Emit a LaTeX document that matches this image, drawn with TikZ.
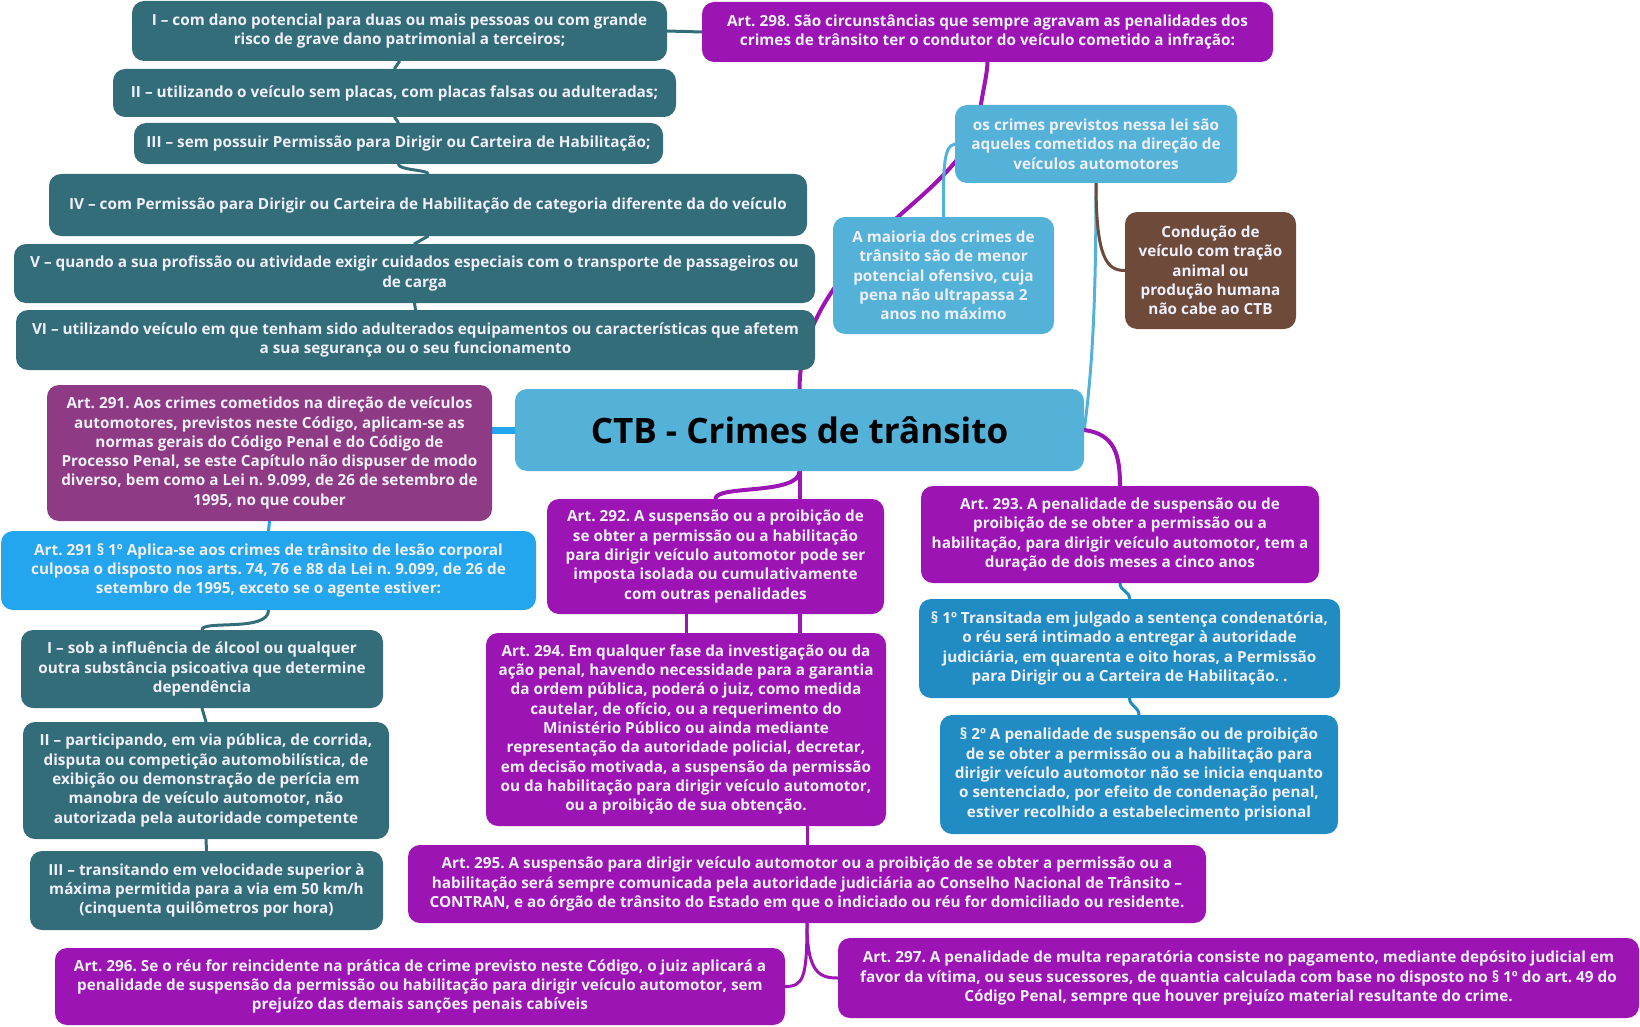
\documentclass[tikz,border=0pt]{standalone}
\usepackage{fontspec}
\setmainfont{Open Sans}
\usepackage{tikz}
\usetikzlibrary{backgrounds}
\definecolor{pur}{HTML}{9C14B4}
\definecolor{teal}{HTML}{336D7A}
\definecolor{sky}{HTML}{54B2D9}
\definecolor{plum}{HTML}{8E3A84}
\definecolor{azure}{HTML}{23A6EE}
\definecolor{ocean}{HTML}{218CC4}
\definecolor{bark}{HTML}{6D4A3A}
\definecolor{txt}{HTML}{F0F0FA}
\frenchspacing
\tikzset{
  box/.style   ={rounded corners=12pt,align=center,inner sep=0pt,text=txt,
                 font=\fontsize{15.3}{19.3}\selectfont\bfseries},
  pbox/.style  ={box,fill=pur},
  tbox/.style  ={box,fill=teal},
  sbox/.style  ={box,fill=sky},
  lbox/.style  ={box,fill=plum},
  abox/.style  ={box,fill=azure},
  obox/.style  ={box,fill=ocean},
  bbox/.style  ={box,fill=bark},
  lnk/.style   ={line width=3pt,line cap=round},
}

\begin{document}
\begin{tikzpicture}[x=1pt,y=-1pt]
  \useasboundingbox (0,0) rectangle (1640,1027);
  % centre
  \node[sbox,text=black,font=\fontsize{35}{40}\selectfont\bfseries,
        minimum width=569pt,minimum height=82pt] (cen) at (799.5,430) {CTB - Crimes de trânsito};
  % art. 298 and its items
  \node[pbox,minimum width=571pt,minimum height=60pt] (art298) at (987.5,32)
       {Art. 298. São circunstâncias que sempre agravam as penalidades dos\\crimes de trânsito ter o condutor do veículo cometido a infração:};
  \node[tbox,minimum width=535pt,minimum height=60pt] (iA) at (399.5,31)
       {I – com dano potencial para duas ou mais pessoas ou com grande\\risco de grave dano patrimonial a terceiros;};
  \node[tbox,minimum width=563pt,minimum height=48pt] (iB) at (394.5,93)
       {II – utilizando o veículo sem placas, com placas falsas ou adulteradas;};
  \node[tbox,minimum width=529pt,minimum height=41pt] (iC) at (398.5,143.5)
       {III – sem possuir Permissão para Dirigir ou Carteira de Habilitação;};
  \node[tbox,minimum width=758pt,minimum height=62pt] (iD) at (428,205)
       {IV – com Permissão para Dirigir ou Carteira de Habilitação de categoria diferente da do veículo};
  \node[tbox,minimum width=801pt,minimum height=59pt] (iE) at (414.5,273.5)
       {V – quando a sua profissão ou atividade exigir cuidados especiais com o transporte de passageiros ou\\de carga};
  \node[tbox,minimum width=799pt,minimum height=60pt] (iF) at (415.5,340)
       {VI – utilizando veículo em que tenham sido adulterados equipamentos ou características que afetem\\a sua segurança ou o seu funcionamento};
  % notes on the right
  \node[sbox,minimum width=282pt,minimum height=78pt] (crimes) at (1096,144)
       {os crimes previstos nessa lei são\\aqueles cometidos na direção de\\veículos automotores};
  \node[sbox,minimum width=221pt,minimum height=117pt] (maioria) at (943.5,275.5)
       {A maioria dos crimes de\\trânsito são de menor\\potencial ofensivo, cuja\\pena não ultrapassa 2\\anos no máximo};
  \node[bbox,minimum width=171pt,minimum height=117pt] (cond) at (1210.5,270.5)
       {Condução de\\veículo com tração\\animal ou\\produção humana\\não cabe ao CTB};
  % art. 291
  \node[lbox,minimum width=445pt,minimum height=136pt] (art291) at (269.5,453)
       {Art. 291. Aos crimes cometidos na direção de veículos\\automotores, previstos neste Código, aplicam-se as\\normas gerais do Código Penal e do Código de\\Processo Penal, se este Capítulo não dispuser de modo\\diverso, bem como a Lei n. 9.099, de 26 de setembro de\\1995, no que couber};
  \node[abox,minimum width=535pt,minimum height=79pt] (s291) at (268.5,570.5)
       {Art. 291 § 1º Aplica-se aos crimes de trânsito de lesão corporal\\culposa o disposto nos arts. 74, 76 e 88 da Lei n. 9.099, de 26 de\\setembro de 1995, exceto se o agente estiver:};
  \node[tbox,minimum width=362pt,minimum height=78pt] (sobI) at (202,669)
       {I – sob a influência de álcool ou qualquer\\outra substância psicoativa que determine\\dependência};
  \node[tbox,minimum width=366pt,minimum height=117pt] (partII) at (206,780.5)
       {II – participando, em via pública, de corrida,\\disputa ou competição automobilística, de\\exibição ou demonstração de perícia em\\manobra de veículo automotor, não\\autorizada pela autoridade competente};
  \node[tbox,minimum width=353pt,minimum height=79pt] (transIII) at (206.5,890.5)
       {III – transitando em velocidade superior à\\máxima permitida para a via em 50 km/h\\(cinquenta quilômetros por hora)};
  % arts. 292 to 297
  \node[pbox,minimum width=337pt,minimum height=115pt] (art292) at (715.5,556.5)
       {Art. 292. A suspensão ou a proibição de\\se obter a permissão ou a habilitação\\para dirigir veículo automotor pode ser\\imposta isolada ou cumulativamente\\com outras penalidades};
  \node[pbox,minimum width=400pt,minimum height=193pt] (art294) at (686,729.5)
       {Art. 294. Em qualquer fase da investigação ou da\\ação penal, havendo necessidade para a garantia\\da ordem pública, poderá o juiz, como medida\\cautelar, de ofício, ou a requerimento do\\Ministério Público ou ainda mediante\\representação da autoridade policial, decretar,\\em decisão motivada, a suspensão da permissão\\ou da habilitação para dirigir veículo automotor,\\ou a proibição de sua obtenção.};
  \node[pbox,minimum width=798pt,minimum height=78pt] (art295) at (807,884)
       {Art. 295. A suspensão para dirigir veículo automotor ou a proibição de se obter a permissão ou a\\habilitação será sempre comunicada pela autoridade judiciária ao Conselho Nacional de Trânsito –\\CONTRAN, e ao órgão de trânsito do Estado em que o indiciado ou réu for domiciliado ou residente.};
  \node[pbox,minimum width=730pt,minimum height=77pt] (art296) at (420,986.5)
       {Art. 296. Se o réu for reincidente na prática de crime previsto neste Código, o juiz aplicará a\\penalidade de suspensão da permissão ou habilitação para dirigir veículo automotor, sem\\prejuízo das demais sanções penais cabíveis};
  \node[pbox,minimum width=801pt,minimum height=80pt] (art297) at (1238.5,978)
       {Art. 297. A penalidade de multa reparatória consiste no pagamento, mediante depósito judicial em\\favor da vítima, ou seus sucessores, de quantia calculada com base no disposto no § 1º do art. 49 do\\Código Penal, sempre que houver prejuízo material resultante do crime.};
  % art. 293 and paragraphs
  \node[pbox,minimum width=398pt,minimum height=97pt] (art293) at (1120,534.5)
       {Art. 293. A penalidade de suspensão ou de\\proibição de se obter a permissão ou a\\habilitação, para dirigir veículo automotor, tem a\\duração de dois meses a cinco anos};
  \node[obox,minimum width=421pt,minimum height=99pt] (p1) at (1129.5,648.5)
       {§ 1º Transitada em julgado a sentença condenatória,\\o réu será intimado a entregar à autoridade\\judiciária, em quarenta e oito horas, a Permissão\\para Dirigir ou a Carteira de Habilitação. .};
  \node[obox,minimum width=398pt,minimum height=119pt] (p2) at (1139,774.5)
       {§ 2º A penalidade de suspensão ou de proibição\\de se obter a permissão ou a habilitação para\\dirigir veículo automotor não se inicia enquanto\\o sentenciado, por efeito de condenação penal,\\estiver recolhido a estabelecimento prisional};

  \begin{scope}[on background layer]
    % upper branches
    \draw[lnk,pur,line width=4pt] (cen.north) .. controls +(0,-60) and (835,275) .. (900,215)
          .. controls (940,180) and (975,150) .. (980,110) .. controls (984,85) and (987,75) .. (art298.south);
    \draw[lnk,teal] (art298.west) -- (iA.east);
    \draw[lnk,teal] (iA.south) -- (iB.north);
    \draw[lnk,teal] (iB.south) -- (iC.north);
    \draw[lnk,teal] (iC.south) .. controls +(0,6) and +(0,-4) .. (iD.north);
    \draw[lnk,teal] (iD.south) -- (iE.north);
    \draw[lnk,teal] (iE.south) -- (iF.north);
    \draw[lnk,sky] (cen.east) .. controls +(8,-60) and +(0,120) .. (crimes.south);
    \draw[lnk,sky] (crimes.west) .. controls +(-12,2) and +(0,-45) .. (maioria.north);
    \draw[lnk,bark] (crimes.south) .. controls +(0,75) and +(-18,0) .. (cond.west);
    % left branch
    \draw[azure,line width=7pt] (cen.west) -- (cen.west -| art291.east);
    \draw[lnk,azure] (art291.south) -- (s291.north);
    \draw[lnk,teal] (s291.south) .. controls +(0,22) and +(0,-10) .. (sobI.north);
    \draw[lnk,teal] (sobI.south) -- (partII.north);
    \draw[lnk,teal] (partII.south) -- (transIII.north);
    % lower branches
    \draw[lnk,pur,line width=4pt] (cen.south) .. controls +(0,24) and +(0,-14) .. (art292.north);
    \draw[lnk,pur,line width=4pt] (cen.south) -- (cen.south |- art294.north);
    \draw[lnk,pur] (art294.north |- art292.south) -- (art294.north);
    \draw[lnk,pur] (art295.north |- art294.south) -- (art295.north);
    \draw[lnk,pur] (art295.south) .. controls +(0,55) and +(18,0) .. (art296.east);
    \draw[lnk,pur] (art295.south) .. controls +(0,50) and +(-18,0) .. (art297.west);
    \draw[lnk,pur,line width=4pt] (cen.east) .. controls +(30,4) and +(0,-32) .. (art293.north);
    \draw[lnk,ocean] (art293.south) .. controls +(0,8) and +(0,-8) .. (p1.north);
    \draw[lnk,ocean] (p1.south) .. controls +(0,8) and +(0,-8) .. (p2.north);
  \end{scope}
\end{tikzpicture}
\end{document}
